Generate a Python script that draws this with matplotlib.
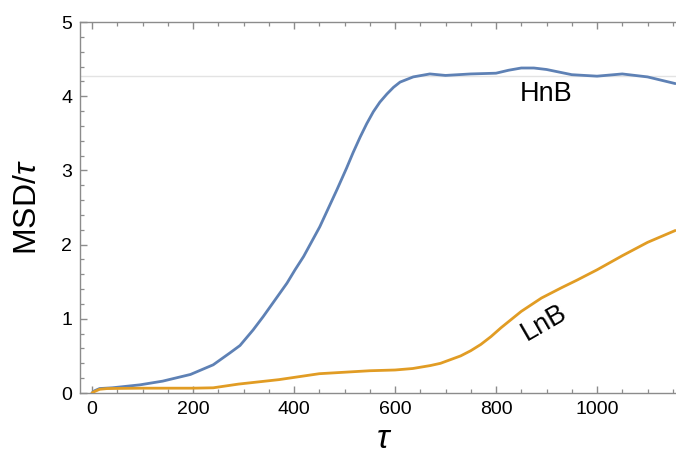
import numpy as np
import matplotlib
matplotlib.use('Agg')
from matplotlib import pyplot as plt
from matplotlib.ticker import MultipleLocator

plt.rcParams['font.family'] = ['Liberation Sans', 'DejaVu Sans']
plt.rcParams['mathtext.fontset'] = 'custom'
plt.rcParams['mathtext.rm'] = 'Liberation Sans'
plt.rcParams['mathtext.it'] = 'Liberation Sans:italic'

# curves
hnb_tau = [0, 5, 15, 40, 95, 140, 195, 240, 273, 293, 319, 339, 362, 386, 402, 419,
           435, 451, 468, 485, 504, 517, 531, 544, 557, 570, 584, 597, 610, 636,
           669, 700, 750, 800, 825, 850, 875, 900, 950, 1000, 1050, 1100, 1155]
hnb_msd = [0, 0.03, 0.06, 0.07, 0.11, 0.16, 0.25, 0.38, 0.54, 0.64, 0.85, 1.03, 1.25,
           1.48, 1.66, 1.84, 2.04, 2.24, 2.49, 2.74, 3.03, 3.24, 3.45, 3.63, 3.79,
           3.92, 4.03, 4.12, 4.19, 4.26, 4.30, 4.28, 4.30, 4.31, 4.35, 4.38, 4.38,
           4.36, 4.29, 4.27, 4.30, 4.26, 4.17]

lnb_tau = [0, 5, 15, 30, 100, 200, 240, 290, 330, 370, 400, 450, 500, 550, 600, 635,
           670, 690, 710, 730, 750, 770, 790, 810, 830, 850, 870, 890, 910, 930, 960,
           1000, 1050, 1100, 1155]
lnb_msd = [0, 0.02, 0.05, 0.06, 0.065, 0.065, 0.07, 0.12, 0.15, 0.18, 0.21, 0.26,
           0.28, 0.30, 0.31, 0.33, 0.37, 0.40, 0.45, 0.50, 0.57, 0.655, 0.76, 0.88,
           0.99, 1.10, 1.19, 1.28, 1.35, 1.42, 1.52, 1.66, 1.85, 2.03, 2.19]

plateau = 4.27

BLUE = '#5E81B5'
ORANGE = '#E19C24'
FRAME = '#8c8c8c'

fig = plt.figure(figsize=(6.76, 4.66), dpi=100)
ax = fig.add_axes([80 / 676, 73 / 466, 596 / 676, 371 / 466])

ax.axhline(plateau, color='#e3e3e3', lw=1.0, zorder=1)
ax.plot(hnb_tau, hnb_msd, color=BLUE, lw=2.0, zorder=3,
        solid_joinstyle='round', solid_capstyle='round')
ax.plot(lnb_tau, lnb_msd, color=ORANGE, lw=2.0, zorder=3,
        solid_joinstyle='round', solid_capstyle='round')

ax.set_xlim(-23.8, 1156.4)
ax.set_ylim(0, 5)

ax.xaxis.set_major_locator(MultipleLocator(200))
ax.xaxis.set_minor_locator(MultipleLocator(50))
ax.yaxis.set_major_locator(MultipleLocator(1))
ax.yaxis.set_minor_locator(MultipleLocator(0.2))

for side in ['left', 'bottom', 'top']:
    ax.spines[side].set_color(FRAME)
    ax.spines[side].set_linewidth(1.0)
ax.spines['right'].set_visible(False)

ax.tick_params(which='both', direction='in', color=FRAME, top=True, right=False,
               labelsize=14, labelcolor='black')
ax.tick_params(which='major', length=5, width=1.0)
ax.tick_params(which='minor', length=2.6, width=0.9)
ax.tick_params(axis='x', which='major', pad=5.5)
ax.tick_params(axis='y', which='major', pad=5.5)

ax.set_xlabel(r'$\tau$', fontsize=24, va='center')
ax.xaxis.set_label_coords(0.51, -0.125)
ax.set_ylabel(r'MSD/$\tau$', fontsize=23, va='center')
ax.yaxis.set_label_coords(-0.088, 0.5)

ax.text(899, 4.03, 'HnB', fontsize=19.5, ha='center', va='center')
ax.text(896, 0.95, 'LnB', fontsize=19.5, ha='center', va='center', rotation=30,
        rotation_mode='anchor')

fig.savefig('out.png', dpi=100)
